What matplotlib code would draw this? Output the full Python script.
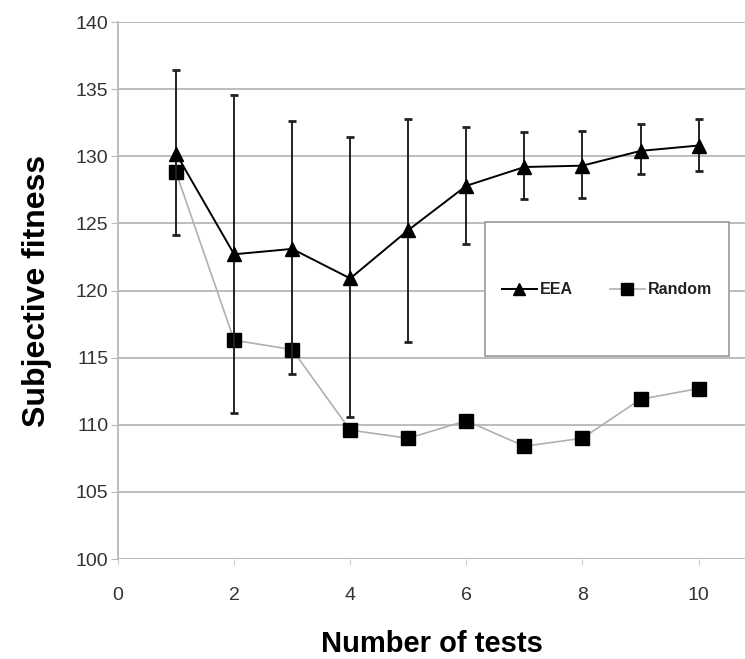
import matplotlib
matplotlib.use("Agg")
import matplotlib.pyplot as plt
from matplotlib.patches import Rectangle

plt.rcParams['font.family'] = ['Liberation Sans', 'DejaVu Sans']

tests = [1, 2, 3, 4, 5, 6, 7, 8, 9, 10]
eea = [130.2, 122.7, 123.1, 120.9, 124.5, 127.8, 129.2, 129.3, 130.4, 130.8]
eea_hi = [136.4, 134.6, 132.6, 131.4, 132.8, 132.2, 131.8, 131.9, 132.4, 132.8]
eea_lo = [124.1, 110.9, 113.8, 110.6, 116.2, 123.5, 126.8, 126.9, 128.7, 128.9]
rand = [128.8, 116.3, 115.6, 109.6, 109.0, 110.3, 108.4, 109.0, 111.9, 112.7]

yerr = [[m - l for m, l in zip(eea, eea_lo)], [h - m for m, h in zip(eea, eea_hi)]]

fig = plt.figure(figsize=(7.45, 6.59), dpi=100)
ax = fig.add_axes([0.1584, 0.1517, 0.8416, 0.8149])

ax.set_ylim(100, 140)
ax.set_xlim(0, 10.8)
ax.set_yticks(range(100, 141, 5))
ax.set_xticks(range(0, 11, 2))
ax.yaxis.grid(True, color='#b8b8b8', lw=1.3)
ax.set_axisbelow(True)
for s in ['top', 'right', 'bottom']:
    ax.spines[s].set_visible(False)
ax.spines['left'].set_color('#b8b8b8')
ax.spines['left'].set_linewidth(1.3)
ax.tick_params(axis='y', colors='#b8b8b8', length=5, labelcolor='#333333', labelsize=14, pad=2)
ax.tick_params(axis='x', colors='#d0d0d0', length=4, labelcolor='#333333', labelsize=14, pad=16)

# random line light grey, squares black
ax.plot(tests, rand, color='#b0b0b0', lw=1.2, zorder=2)
ax.plot(tests, rand, ls='none', marker='s', ms=10, color='black', zorder=3)
ax.errorbar(tests, eea, yerr=yerr, color='black', lw=1.4, marker='^', ms=10,
            ecolor='#222222', elinewidth=1.4, capsize=3, capthick=2, zorder=4)

# legend box
box = Rectangle((0.585, 0.378), 0.3895, 0.2496, transform=ax.transAxes,
                facecolor='white', edgecolor='#a0a0a0', lw=1.3, zorder=5)
ax.add_patch(box)

h1, = ax.plot([], [], color='black', lw=1.4, marker='^', ms=8, label='EEA')
h2, = ax.plot([], [], color='#b0b0b0', lw=1.2, marker='s', ms=8, mfc='black', mec='black', label='Random')
leg = ax.legend(handles=[h1, h2], ncol=2, loc='center', bbox_to_anchor=(0.78, 0.501),
                frameon=False, fontsize=11.5, handlelength=2.2,
                handletextpad=0.2, columnspacing=2.3)
leg.set_zorder(6)
for t in leg.get_texts():
    t.set_fontweight('bold')
    t.set_color('#222222')

ax.set_ylabel('Subjective fitness', fontsize=23, fontweight='bold', labelpad=17)
ax.set_xlabel('Number of tests', fontsize=21, fontweight='bold', labelpad=19)

fig.savefig('out.png', dpi=100)
